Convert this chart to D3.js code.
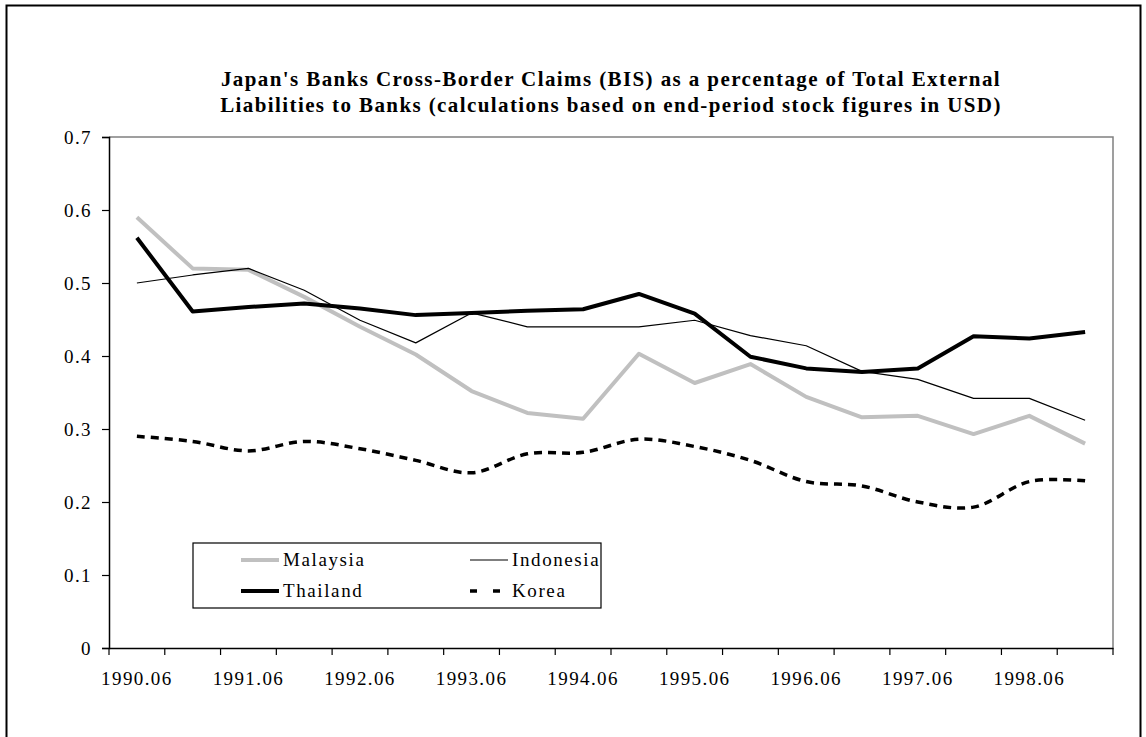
<!DOCTYPE html>
<html>
<head>
<meta charset="utf-8">
<script src="https://cdn.jsdelivr.net/npm/d3@7"></script>
<style>
  body { margin: 0; background: #fff; }
  text { font-family: "Liberation Serif", "Times New Roman", serif; }
</style>
</head>
<body>
<div class="chart-container"></div>
<script>
// data
const periods = ['1990.06', '1990.12', '1991.06', '1991.12', '1992.06', '1992.12',
    '1993.06', '1993.12', '1994.06', '1994.12', '1995.06', '1995.12',
    '1996.06', '1996.12', '1997.06', '1997.12', '1998.06', '1998.12']
const malaysia = [0.590, 0.520, 0.518, 0.481, 0.440, 0.402, 0.352, 0.322, 0.314,
    0.403, 0.363, 0.389, 0.344, 0.316, 0.318, 0.293, 0.318, 0.280]
const indonesia = [0.500, 0.511, 0.520, 0.490, 0.449, 0.418, 0.459, 0.440, 0.440,
    0.440, 0.449, 0.428, 0.414, 0.379, 0.368, 0.342, 0.342, 0.312]
const thailand = [0.562, 0.461, 0.467, 0.472, 0.465, 0.456, 0.459, 0.462, 0.464,
    0.485, 0.458, 0.399, 0.383, 0.378, 0.383, 0.427, 0.424, 0.433]
const korea = [0.290, 0.283, 0.270, 0.283, 0.273, 0.257, 0.240, 0.266, 0.268,
    0.286, 0.276, 0.257, 0.228, 0.222, 0.200, 0.193, 0.228, 0.229]
const yTicks = [0, 0.1, 0.2, 0.3, 0.4, 0.5, 0.6, 0.7]
const titleLines = [
    "Japan's Banks Cross-Border Claims (BIS) as a percentage of Total External",
    'Liabilities to Banks (calculations based on end-period stock figures in USD)'
]

const series = [
    { name: 'Malaysia', values: malaysia, color: '#c0c0c0', width: 4, dash: null, smooth: false },
    { name: 'Indonesia', values: indonesia, color: '#000', width: 1.2, dash: null, smooth: false },
    { name: 'Thailand', values: thailand, color: '#000', width: 4, dash: null, smooth: false },
    { name: 'Korea', values: korea, color: '#000', width: 3.5, dash: '8 6', smooth: true }
]

const W = 1146
const H = 737
const plot = { left: 109, right: 1113, top: 137, bottom: 648 }

const svg = d3.select('.chart-container')
    .append('svg')
    .attr('width', W)
    .attr('height', H)

// outer frame
svg.append('rect')
    .attr('x', 6.5)
    .attr('y', 5.5)
    .attr('width', 1134)
    .attr('height', 760)
    .attr('fill', 'none')
    .attr('stroke', '#000')
    .attr('stroke-width', 2)

// scales
const xScale = d3.scaleBand()
    .domain(periods)
    .range([plot.left, plot.right])
    .paddingInner(0)
    .paddingOuter(0)

const yScale = d3.scaleLinear()
    .domain([0, 0.7])
    .range([plot.bottom, plot.top])

const xMid = d => xScale(d) + xScale.bandwidth() / 2

// plot area border (top, right)
svg.append('path')
    .attr('d', `M${plot.left},${plot.top}H${plot.right}V${plot.bottom}`)
    .attr('fill', 'none')
    .attr('stroke', '#808080')
    .attr('stroke-width', 1.5)

// title
svg.append('text')
    .attr('x', (plot.left + plot.right) / 2)
    .attr('y', 86)
    .attr('text-anchor', 'middle')
    .style('font-size', '21px')
    .style('font-weight', 'bold')
    .style('letter-spacing', '1.4px')
    .selectAll('tspan')
    .data(titleLines)
    .join('tspan')
    .attr('x', (plot.left + plot.right) / 2)
    .attr('dy', (d, i) => i === 0 ? 0 : 26)
    .text(d => d)

// y axis
const yAxis = svg.append('g')
    .attr('transform', `translate(${plot.left},0)`)
    .call(d3.axisLeft(yScale)
        .tickValues(yTicks)
        .tickSize(7)
        .tickPadding(10)
        .tickFormat(d => d === 0 ? '0' : d3.format('.1f')(d)))
yAxis.select('.domain').attr('stroke', '#000').attr('stroke-width', 1.5)
yAxis.selectAll('.tick line').attr('stroke-width', 1.2)
yAxis.selectAll('text')
    .style('font-size', '19px')
    .style('letter-spacing', '1.4px')
    .attr('fill', '#000')

// x axis
const xAxis = svg.append('g')
    .attr('transform', `translate(0,${plot.bottom})`)
    .call(d3.axisBottom(xScale)
        .tickSize(0)
        .tickPadding(24)
        .tickFormat(d => d.endsWith('.06') ? d : ''))
xAxis.select('.domain').attr('stroke', '#000').attr('stroke-width', 1.5)
xAxis.selectAll('text')
    .style('font-size', '19px')
    .style('letter-spacing', '1.4px')
    .attr('fill', '#000')

// x tick marks between categories
const edges = periods.map(p => xScale(p)).concat([plot.right])
xAxis.selectAll('.edge')
    .data(edges)
    .join('line')
    .attr('class', 'edge')
    .attr('x1', d => d)
    .attr('x2', d => d)
    .attr('y1', 0)
    .attr('y2', 7)
    .attr('stroke', '#000')
    .attr('stroke-width', 1.2)

// lines
const lineStraight = d3.line()
    .x((d, i) => xMid(periods[i]))
    .y(d => yScale(d))
const lineSmooth = d3.line()
    .x((d, i) => xMid(periods[i]))
    .y(d => yScale(d))
    .curve(d3.curveCatmullRom.alpha(0.5))

svg.selectAll('.series')
    .data(series)
    .join('path')
    .attr('class', 'series')
    .attr('d', d => d.smooth ? lineSmooth(d.values) : lineStraight(d.values))
    .attr('fill', 'none')
    .attr('stroke', d => d.color)
    .attr('stroke-width', d => d.width)
    .attr('stroke-dasharray', d => d.dash)
    .attr('stroke-linejoin', 'round')

// legend
const legend = svg.append('g')
    .attr('transform', 'translate(193,543)')

legend.append('rect')
    .attr('width', 408)
    .attr('height', 65)
    .attr('fill', '#fff')
    .attr('stroke', '#000')
    .attr('stroke-width', 1.2)

const legendItems = legend.selectAll('.legend-item')
    .data(series)
    .join('g')
    .attr('class', 'legend-item')
    .attr('transform', (d, i) => `translate(${48 + (i % 2) * 229},${17 + Math.floor(i / 2) * 31})`)

legendItems.append('line')
    .attr('x1', 0)
    .attr('x2', 38)
    .attr('stroke', d => d.color)
    .attr('stroke-width', d => d.width)
    .attr('stroke-dasharray', d => d.dash ? '7 16' : null)

legendItems.append('text')
    .attr('x', 42)
    .attr('dy', '0.33em')
    .style('font-size', '19px')
    .style('letter-spacing', '1.6px')
    .text(d => d.name)
</script>
</body>
</html>
